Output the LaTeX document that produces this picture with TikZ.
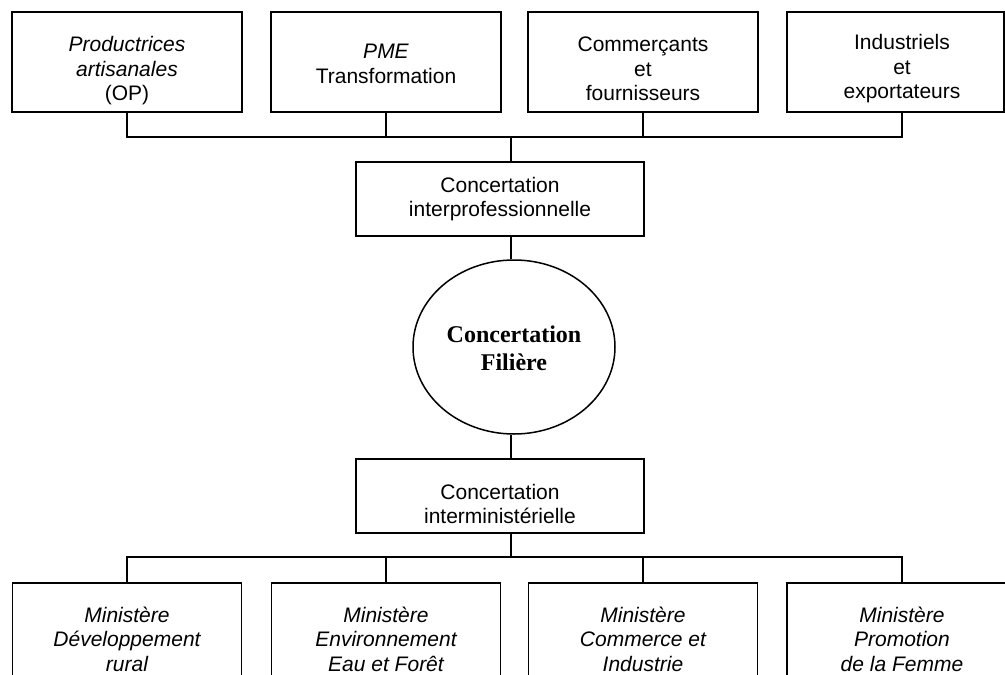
\documentclass[tikz,border=0pt]{standalone}
\usepackage{fontspec}
\setmainfont{Liberation Sans}
\newfontfamily\serifbold{Liberation Serif}
\usetikzlibrary{shapes.geometric}
\begin{document}
\begin{tikzpicture}[x=1pt,y=-1pt,
  box/.style={draw, line width=1.5pt, inner sep=0pt, minimum height=#1},
  box/.default=100pt,
  txt/.style={align=center, inner sep=0pt, font=\fontsize{21}{24.5}\selectfont},
  conn/.style={line width=1.5pt}]
\useasboundingbox (0,0) rectangle (1005,675);
\clip (0,0) rectangle (1005,675);
\fill[white] (0,0) rectangle (1005,675);
% top boxes
\node[box, minimum width=230pt] (t1) at (127,62) {};
\node[box, minimum width=230pt] (t2) at (386,62) {};
\node[box, minimum width=230pt] (t3) at (643,62) {};
\node[box, minimum width=217pt] (t4) at (895.5,62) {};
\node[txt] (t1x) at (127,71) {\itshape Productrices\\\itshape artisanales\\(OP)};
\node[txt] (t2x) at (386,64) {\itshape PME\\Transformation};
\node[txt] (t3x) at (643,69) {Commerçants\\et\\fournisseurs};
\node[txt] (t4x) at (902,69) {Industriels\\et\\exportateurs};
% middle
\node[box=74pt, minimum width=288pt, txt] (ip) at (500,199) {Concertation\\interprofessionnelle};
\node[draw, line width=1.5pt, ellipse, inner sep=0pt, minimum width=202pt, minimum height=174pt] (el) at (514,347) {};
\node[align=center, inner sep=0pt, font=\serifbold\bfseries\fontsize{24}{28}\selectfont] (elx) at (514,348) {Concertation\\Filière};
\node[box=74pt, minimum width=288pt] (im) at (500,496) {};
\node[txt] (imx) at (500,504) {Concertation\\interministérielle};
% bottom boxes
\node[box=117pt, minimum width=229pt] (b1) at (127,641.5) {};
\node[box=117pt, minimum width=229pt] (b2) at (386,641.5) {};
\node[box=117pt, minimum width=229pt] (b3) at (643,641.5) {};
\node[box=117pt, minimum width=230pt] (b4) at (902,641.5) {};
\node[txt] (b1x) at (127,639) {\itshape Ministère\\\itshape Développement\\\itshape rural};
\node[txt] (b2x) at (386,639) {\itshape Ministère\\\itshape Environnement\\\itshape Eau et Forêt};
\node[txt] (b3x) at (643,639) {\itshape Ministère\\\itshape Commerce et\\\itshape Industrie};
\node[txt] (b4x) at (902,639) {\itshape Ministère\\\itshape Promotion\\\itshape de la Femme};
% connectors top
\coordinate (busT) at (511,137);
\draw[conn] (t1.south) |- (busT);
\draw[conn] (t2.south) |- (busT);
\draw[conn] (t3.south) |- (busT);
\draw[conn] (t4.south -| t4x) |- (busT);
\draw[conn] (busT) -- (ip.north -| busT);
\draw[conn] (ip.south -| busT) -- (el.north -| busT);
\draw[conn] (el.south -| busT) -- (im.north -| busT);
% connectors bottom
\coordinate (busB) at (511,557);
\draw[conn] (im.south -| busB) -- (busB);
\draw[conn] (busB) -| (b1.north);
\draw[conn] (busB) -| (b2.north);
\draw[conn] (busB) -| (b3.north);
\draw[conn] (busB) -| (b4.north);
\end{tikzpicture}
\end{document}
